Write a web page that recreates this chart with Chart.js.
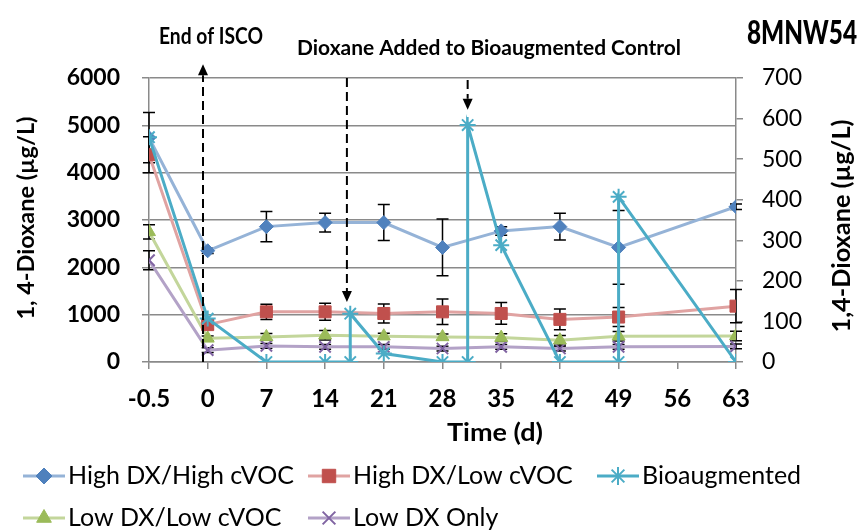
<!DOCTYPE html>
<html>
<head>
<meta charset="utf-8">
<script src="https://cdn.jsdelivr.net/npm/chart.js@4.4.0/dist/chart.umd.min.js"></script>
<style>
    html, body { margin: 0; padding: 0; background: #fff; }
    #wrap { width: 860px; height: 531px; position: relative; }
</style>
</head>
<body>
<div id="wrap"><canvas id="chart"></canvas></div>
<script>
// x axis tick labels (days)
const tickLabels = ['-0.5', '0', '7', '14', '21', '28', '35', '42', '49', '56', '63'];

// sampling days for the four treatment series
const sampleDays = [-0.5, 0, 7, 14, 21, 28, 35, 42, 49, 63];

// left axis, ug/L, with +/- error
const highHigh    = [4740, 2350, 2860, 2945, 2945, 2420, 2770, 2860, 2420, 3280];
const highHighErr = [530, 60, 320, 200, 380, 600, 90, 280, 780, 60];
const highLow     = [4380, 790, 1060, 1060, 1025, 1060, 1025, 900, 950, 1180];
const highLowErr  = [380, 100, 160, 180, 200, 270, 230, 220, 200, 350];
const lowLow      = [2750, 500, 530, 566, 545, 530, 515, 460, 545, 550];
const lowLowErr   = [150, 50, 70, 100, 60, 60, 80, 100, 100, 100];
const lowOnly     = [2150, 250, 340, 320, 320, 285, 320, 285, 320, 330];
const lowOnlyErr  = [200, 50, 50, 50, 50, 50, 50, 50, 50, 50];

// bioaugmented control, right axis (dioxane re-added on day 17, 31 and 49)
const bioDays = [-0.5, 0, 7, 14, 17, 17, 21, 28, 31, 31, 35, 42, 49, 49, 63];
const bioVals = [554, 107, 0, 0, 0, 119, 21, 0, 0, 584, 288, 0, 0, 407, 0];

// annotation arrows: day, start value, tip value (left axis units)
const arrowDays = [-0.04, 16.6, 31];
const arrowFrom = [0, 6000, 5960];
const arrowTo   = [6290, 1270, 5330];

// the time axis gives -0.5 -> 0 one slot, then one slot per week
function dayToPos(d) {
    return d < 0 ? (d + 0.5) / 0.5 : 1 + d / 7;
}

function series(label, days, values, errors, lineColor, markerColor, style, radius, axis, order) {
    return {
        label: label,
        data: days.map((d, i) => ({ x: dayToPos(d), y: values[i] })),
        errorBars: errors,
        borderColor: lineColor,
        backgroundColor: markerColor,
        borderWidth: 3,
        pointStyle: style,
        pointRadius: radius,
        pointBackgroundColor: markerColor,
        pointBorderColor: markerColor,
        pointBorderWidth: (style === 'crossRot' || style === 'star') ? 2 : 1,
        yAxisID: axis,
        order: order,
        tension: 0,
        fill: false
    };
}

const datasets = [
    series('High DX/High cVOC', sampleDays, highHigh, highHighErr, '#95B3D7', '#4F81BD', 'rectRot', 7, 'y', 1),
    series('High DX/Low cVOC', sampleDays, highLow, highLowErr, '#E0A3A2', '#C0504D', 'rect', 8.5, 'y', 2),
    series('Bioaugmented', bioDays, bioVals, null, '#4BACC6', '#4BACC6', 'star', 8, 'y2', 0),
    series('Low DX/Low cVOC', sampleDays, lowLow, lowLowErr, '#C3D69B', '#9BBB59', 'triangle', 7.5, 'y', 3),
    series('Low DX Only', sampleDays, lowOnly, lowOnlyErr, '#B3A2C7', '#8064A2', 'crossRot', 8, 'y', 4)
];

// draw text centred on (cx, cy), squeezed to a target width
function fitText(ctx, text, cx, cy, font, width, rotate) {
    ctx.save();
    ctx.font = font;
    const w = ctx.measureText(text).width;
    ctx.translate(cx, cy);
    if (rotate) ctx.rotate(rotate);
    ctx.scale(width / w, 1);
    ctx.textAlign = 'center';
    ctx.textBaseline = 'middle';
    ctx.fillStyle = '#000';
    ctx.fillText(text, 0, 0);
    ctx.restore();
}

const errorBarPlugin = {
    id: 'errorBars',
    beforeDatasetsDraw(chart) {
        const ctx = chart.ctx;
        ctx.save();
        ctx.strokeStyle = '#000';
        ctx.lineWidth = 1.5;
        chart.data.datasets.forEach((ds, i) => {
            if (!ds.errorBars) return;
            const meta = chart.getDatasetMeta(i);
            const yScale = chart.scales[ds.yAxisID];
            meta.data.forEach((pt, j) => {
                const v = ds.data[j].y;
                const e = ds.errorBars[j];
                const top = yScale.getPixelForValue(v + e);
                const bot = yScale.getPixelForValue(Math.max(0, v - e));
                ctx.beginPath();
                ctx.moveTo(pt.x, top); ctx.lineTo(pt.x, bot);
                ctx.moveTo(pt.x - 6, top); ctx.lineTo(pt.x + 6, top);
                ctx.moveTo(pt.x - 6, bot); ctx.lineTo(pt.x + 6, bot);
                ctx.stroke();
            });
        });
        ctx.restore();
    }
};

const notesPlugin = {
    id: 'notes',
    afterDatasetsDraw(chart) {
        const ctx = chart.ctx;
        const xs = chart.scales.x, ys = chart.scales.y;
        ctx.save();
        arrowDays.forEach((d, i) => {
            const x = xs.getPixelForValue(dayToPos(d));
            const y0 = ys.getPixelForValue(arrowFrom[i]);
            const y1 = ys.getPixelForValue(arrowTo[i]);
            const dir = y1 < y0 ? -1 : 1;
            const head = 11;
            ctx.strokeStyle = '#000';
            ctx.lineWidth = 2;
            ctx.setLineDash([9, 5]);
            ctx.beginPath();
            ctx.moveTo(x, y0);
            ctx.lineTo(x, y1 - dir * head);
            ctx.stroke();
            ctx.setLineDash([]);
            ctx.fillStyle = '#000';
            ctx.beginPath();
            ctx.moveTo(x, y1);
            ctx.lineTo(x - 5, y1 - dir * head);
            ctx.lineTo(x + 5, y1 - dir * head);
            ctx.closePath();
            ctx.fill();
        });
        ctx.restore();
    },
    afterDraw(chart) {
        const ctx = chart.ctx;
        fitText(ctx, '8MNW54', 802, 33, '900 33px Lato', 110);
        fitText(ctx, 'End of ISCO', 211, 37, 'bold 22px Lato', 104);
        fitText(ctx, 'Dioxane Added to Bioaugmented Control', 489, 48, 'bold 21px Lato', 384);
        fitText(ctx, 'Time (d)', 495, 433, 'bold 25px Lato', 96);
        fitText(ctx, '1, 4-Dioxane (\u00b5g/L)', 27, 218, 'bold 23px Lato', 203, -Math.PI / 2);
        fitText(ctx, '1,4-Dioxane (\u00b5g/L)', 842, 226, 'bold 24px Lato', 213, -Math.PI / 2);

        // legend laid out in columns, like the original
        const cols = [23, 308, 597];
        const rows = [476, 518];
        ctx.save();
        chart.data.datasets.forEach((ds, i) => {
            const x = cols[i % 3];
            const y = rows[Math.floor(i / 3)];
            ctx.strokeStyle = ds.borderColor;
            ctx.lineWidth = 3;
            ctx.beginPath();
            ctx.moveTo(x, y); ctx.lineTo(x + 42, y);
            ctx.stroke();
            ctx.fillStyle = ds.pointBackgroundColor;
            ctx.strokeStyle = ds.pointBorderColor;
            ctx.lineWidth = ds.pointBorderWidth;
            Chart.helpers.drawPoint(ctx, {
                pointStyle: ds.pointStyle, radius: ds.pointRadius + 1, rotation: 0, borderWidth: ds.pointBorderWidth
            }, x + 21, y);
            ctx.fillStyle = '#000';
            ctx.font = '25px Lato';
            ctx.textAlign = 'left';
            ctx.textBaseline = 'middle';
            ctx.fillText(ds.label, x + 45, y);
        });
        ctx.restore();
    }
};

const gridColor = '#8A8A8A';

new Chart(document.getElementById('chart'), {
    type: 'line',
    data: { datasets: datasets },
    options: {
        responsive: true,
        maintainAspectRatio: false,
        animation: false,
        layout: { padding: { top: 78, left: 0, right: 0, bottom: 0 } },
        plugins: { legend: { display: false }, tooltip: { enabled: false } },
        scales: {
            x: {
                type: 'linear',
                position: 'bottom',
                min: 0,
                max: 10,
                afterFit: s => { s.height = 169; },
                ticks: {
                    stepSize: 1,
                    autoSkip: false,
                    maxRotation: 0,
                    padding: 16,
                    color: '#000',
                    font: { family: 'Lato', size: 24, weight: 'bold' },
                    callback: v => tickLabels[v] ?? ''
                },
                grid: { drawOnChartArea: false, tickLength: 7, color: gridColor, lineWidth: 1.5 },
                border: { color: gridColor, width: 1.5 }
            },
            y: {
                position: 'left',
                min: 0,
                max: 6000,
                afterFit: s => { s.width = 149; },
                ticks: {
                    stepSize: 1000,
                    padding: 22,
                    color: '#000',
                    font: { family: 'Lato', size: 23, weight: 'bold' },
                    callback: v => String(v)
                },
                grid: { color: gridColor, lineWidth: 1.5, tickLength: 7 },
                border: { color: gridColor, width: 1.5 }
            },
            y2: {
                position: 'right',
                min: 0,
                max: 700,
                afterFit: s => { s.width = 124; },
                ticks: {
                    stepSize: 100,
                    padding: 19,
                    color: '#000',
                    font: { family: 'Lato', size: 23 },
                    callback: v => String(v)
                },
                grid: { drawOnChartArea: false, color: gridColor, lineWidth: 1.5, tickLength: 7 },
                border: { color: gridColor, width: 1.5 }
            }
        }
    },
    plugins: [errorBarPlugin, notesPlugin]
});
</script>
</body>
</html>
